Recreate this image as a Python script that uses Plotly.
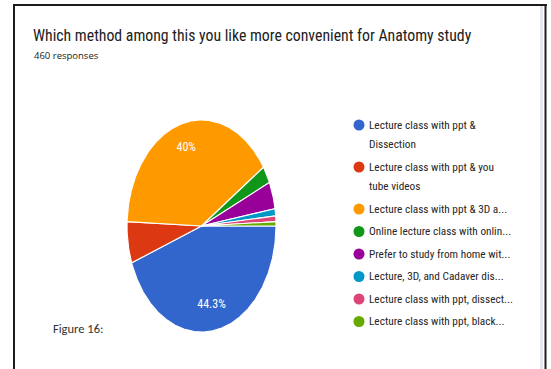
import math
import plotly.graph_objects as go

W, H = 551, 369

# Survey answers (460 responses in total)
categories = [
    "Lecture class with ppt &\nDissection",
    "Lecture class with ppt & you\ntube videos",
    "Lecture class with ppt & 3D a...",
    "Online lecture class with onlin...",
    "Prefer to study from home wit...",
    "Lecture, 3D, and Cadaver dis...",
    "Lecture class with ppt, dissect...",
    "Lecture class with ppt, black...",
]
responses = [204, 29, 184, 12, 19, 5, 4, 3]
colors = ["#3366cc", "#dc3912", "#ff9900", "#109618",
          "#990099", "#0099c6", "#dd4477", "#66aa00"]

title_text = "Which method among this you like more convenient for Anatomy study"
subtitle_text = "460 responses"
caption_text = "Figure 16:"

COND = "Roboto Condensed, Liberation Sans Narrow, sans-serif"
TEXT_COLOR = "#212121"

total = sum(responses)
fig = go.Figure()

# ---- pie wedges, clockwise from 3 o'clock, drawn in a unit box ----
start = 0.0
label_x, label_y, label_t = [], [], []
for name, val, col in zip(categories, responses, colors):
    sweep = 360.0 * val / total
    steps = max(2, int(math.ceil(sweep / 0.5)))
    xs, ys = [0.0], [0.0]
    for k in range(steps + 1):
        a = math.radians(start + sweep * k / steps)
        xs.append(math.cos(a))
        ys.append(-math.sin(a))
    xs.append(0.0)
    ys.append(0.0)
    fig.add_trace(go.Scatter(
        x=xs, y=ys, mode="lines", fill="toself", fillcolor=col,
        line=dict(color="white", width=1.1), name=name.replace("\n", " "),
        hoverinfo="skip", showlegend=False, xaxis="x", yaxis="y"))
    pct = 100.0 * val / total
    if pct >= 10:
        mid = math.radians(start + sweep / 2)
        label_x.append(0.76 * math.cos(mid))
        label_y.append(-0.76 * math.sin(mid))
        label_t.append(f"{pct:.1f}".rstrip("0").rstrip(".") + "%")
    start += sweep

fig.add_trace(go.Scatter(
    x=label_x, y=label_y, mode="text", text=label_t,
    textposition="middle center",
    textfont=dict(family=COND, size=12, color="white"),
    hoverinfo="skip", showlegend=False, xaxis="x", yaxis="y"))

# ---- legend (pixel-positioned axis covering the whole figure) ----
LEG_X, FIRST_Y, LINE_H, ITEM_GAP = 359, 125, 19.5, 22.5
mk_y = []
y = FIRST_Y
annotations = []
for name in categories:
    lines = name.split("\n")
    mk_y.append(y)
    for j, ln in enumerate(lines):
        annotations.append(dict(
            x=LEG_X + 8, y=y + j * LINE_H, xref="x2", yref="y2",
            text=ln, showarrow=False, xanchor="left", yanchor="middle",
            font=dict(family=COND, size=11.3, color="#262626")))
    y += (len(lines) - 1) * LINE_H + ITEM_GAP

fig.add_trace(go.Scatter(
    x=[LEG_X] * len(categories), y=mk_y, mode="markers",
    marker=dict(size=11, color=colors, line=dict(width=0)),
    hoverinfo="skip", showlegend=False, xaxis="x2", yaxis="y2"))

# ---- titles ----
annotations += [
    dict(x=31, y=35, xref="x2", yref="y2", text=title_text, showarrow=False,
         xanchor="left", yanchor="middle",
         font=dict(family=COND, size=15.8, color=TEXT_COLOR)),
    dict(x=32, y=55, xref="x2", yref="y2", text=subtitle_text, showarrow=False,
         xanchor="left", yanchor="middle",
         font=dict(family="Open Sans, sans-serif", size=9.5, color=TEXT_COLOR)),
    dict(x=51, y=328, xref="x2", yref="y2", text=caption_text, showarrow=False,
         xanchor="left", yanchor="middle",
         font=dict(family="Carlito, Liberation Sans Narrow, sans-serif", size=12.5,
                   color="#333333")),
]

# ---- frame around the panel ----
shapes = [
    dict(type="line", xref="x2", yref="y2", x0=541.5, x1=541.5, y0=6, y1=H,
         line=dict(color="#e4e7ee", width=3)),
    dict(type="line", xref="x2", yref="y2", x0=14, x1=14, y0=4, y1=H,
         line=dict(color="#1c1c1c", width=2)),
    dict(type="line", xref="x2", yref="y2", x0=13, x1=547, y0=5, y1=5,
         line=dict(color="#1c1c1c", width=2)),
    dict(type="line", xref="x2", yref="y2", x0=545.5, x1=545.5, y0=4, y1=H,
         line=dict(color="#1c1c1c", width=2)),
]

pie_left, pie_right, pie_top, pie_bottom = 127, 276, 120, 332
fig.update_layout(
    width=W, height=H, margin=dict(l=0, r=0, t=0, b=0),
    paper_bgcolor="white", plot_bgcolor="rgba(0,0,0,0)",
    xaxis=dict(domain=[pie_left / W, pie_right / W], range=[-1.0, 1.0],
               visible=False, fixedrange=True, anchor="y"),
    yaxis=dict(domain=[1 - pie_bottom / H, 1 - pie_top / H], range=[-1.0, 1.0],
               visible=False, fixedrange=True, anchor="x"),
    xaxis2=dict(domain=[0, 1], range=[0, W], visible=False, fixedrange=True,
                anchor="y2"),
    yaxis2=dict(domain=[0, 1], range=[H, 0], visible=False, fixedrange=True,
                anchor="x2"),
    annotations=annotations, shapes=shapes, showlegend=False,
)

fig.write_html("out.html", config={"displayModeBar": False})
